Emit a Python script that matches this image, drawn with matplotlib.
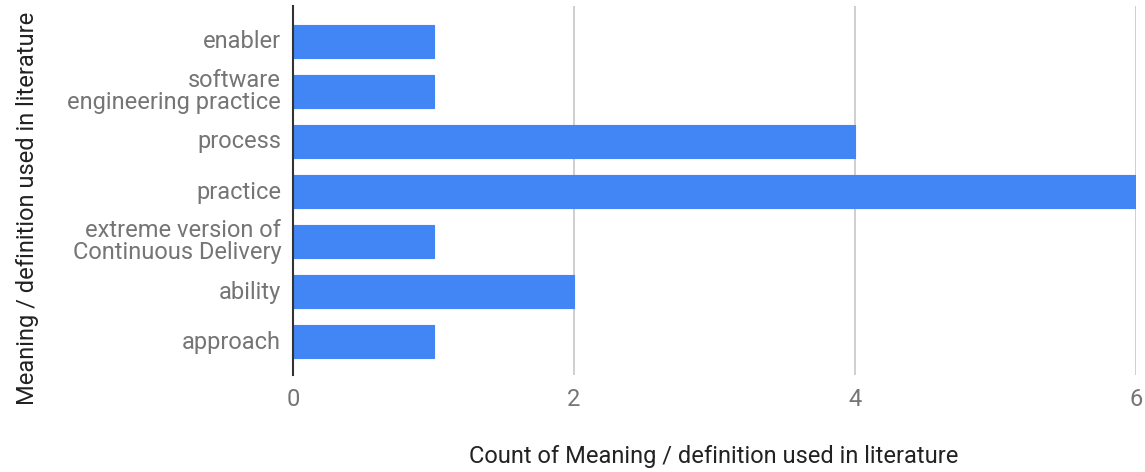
import matplotlib
matplotlib.use("Agg")
import matplotlib.pyplot as plt
from matplotlib.transforms import ScaledTranslation

categories = [
    "enabler",
    "software\nengineering practice",
    "process",
    "practice",
    "extreme version of\nContinuous Delivery",
    "ability",
    "approach",
]
counts = [1, 1, 4, 6, 1, 2, 1]
x_ticks = [0, 2, 4, 6]

BAR_COLOR = "#4285F4"
LABEL_COLOR = "#757575"
TITLE_COLOR = "#222222"

plt.rcParams["font.family"] = ["Roboto", "DejaVu Sans"]

W, H = 1145, 472
fig = plt.figure(figsize=(W / 100, H / 100), dpi=100)
ax = fig.add_axes([293 / W, 1 - 375 / H, (1136 - 293) / W, (375 - 6) / H])

ypos = list(range(len(categories)))
ax.barh(ypos, counts, height=0.66, color=BAR_COLOR, edgecolor=BAR_COLOR,
        linewidth=0.8, joinstyle="round", zorder=3)

ax.set_ylim(len(categories) - 1 + 0.67, -0.71)
ax.set_xlim(0, 6)
ax.set_xticks(x_ticks)
ax.set_xticklabels([str(t) for t in x_ticks])
ax.set_yticks(ypos)
ax.set_yticklabels(categories, linespacing=0.95)

ax.grid(axis="x", color="#cccccc", linewidth=1.3, zorder=0)
ax.grid(axis="y", visible=False)
for side in ("top", "right", "bottom"):
    ax.spines[side].set_visible(False)
ax.spines["left"].set_color("#333333")
ax.spines["left"].set_linewidth(1.5)
ax.spines["left"].set_zorder(4)

ax.tick_params(axis="both", length=0, labelsize=17, labelcolor=LABEL_COLOR)
ax.tick_params(axis="y", pad=8.5)
ax.tick_params(axis="x", pad=9)

# nudge category labels up a touch so they sit centred on the bars
lift = ScaledTranslation(0, 2 / 100, fig.dpi_scale_trans)
for lbl in ax.get_yticklabels():
    lbl.set_transform(lbl.get_transform() + lift)

fig.text(714 / W, 1 - 457 / H, "Count of Meaning / definition used in literature",
         ha="center", va="center", fontsize=17, color=TITLE_COLOR)
fig.text(28 / W, 1 - 208 / H, "Meaning / definition used in literature",
         ha="center", va="center", rotation=90, fontsize=17, color=TITLE_COLOR)

fig.savefig("out.png", dpi=100, facecolor="white")
